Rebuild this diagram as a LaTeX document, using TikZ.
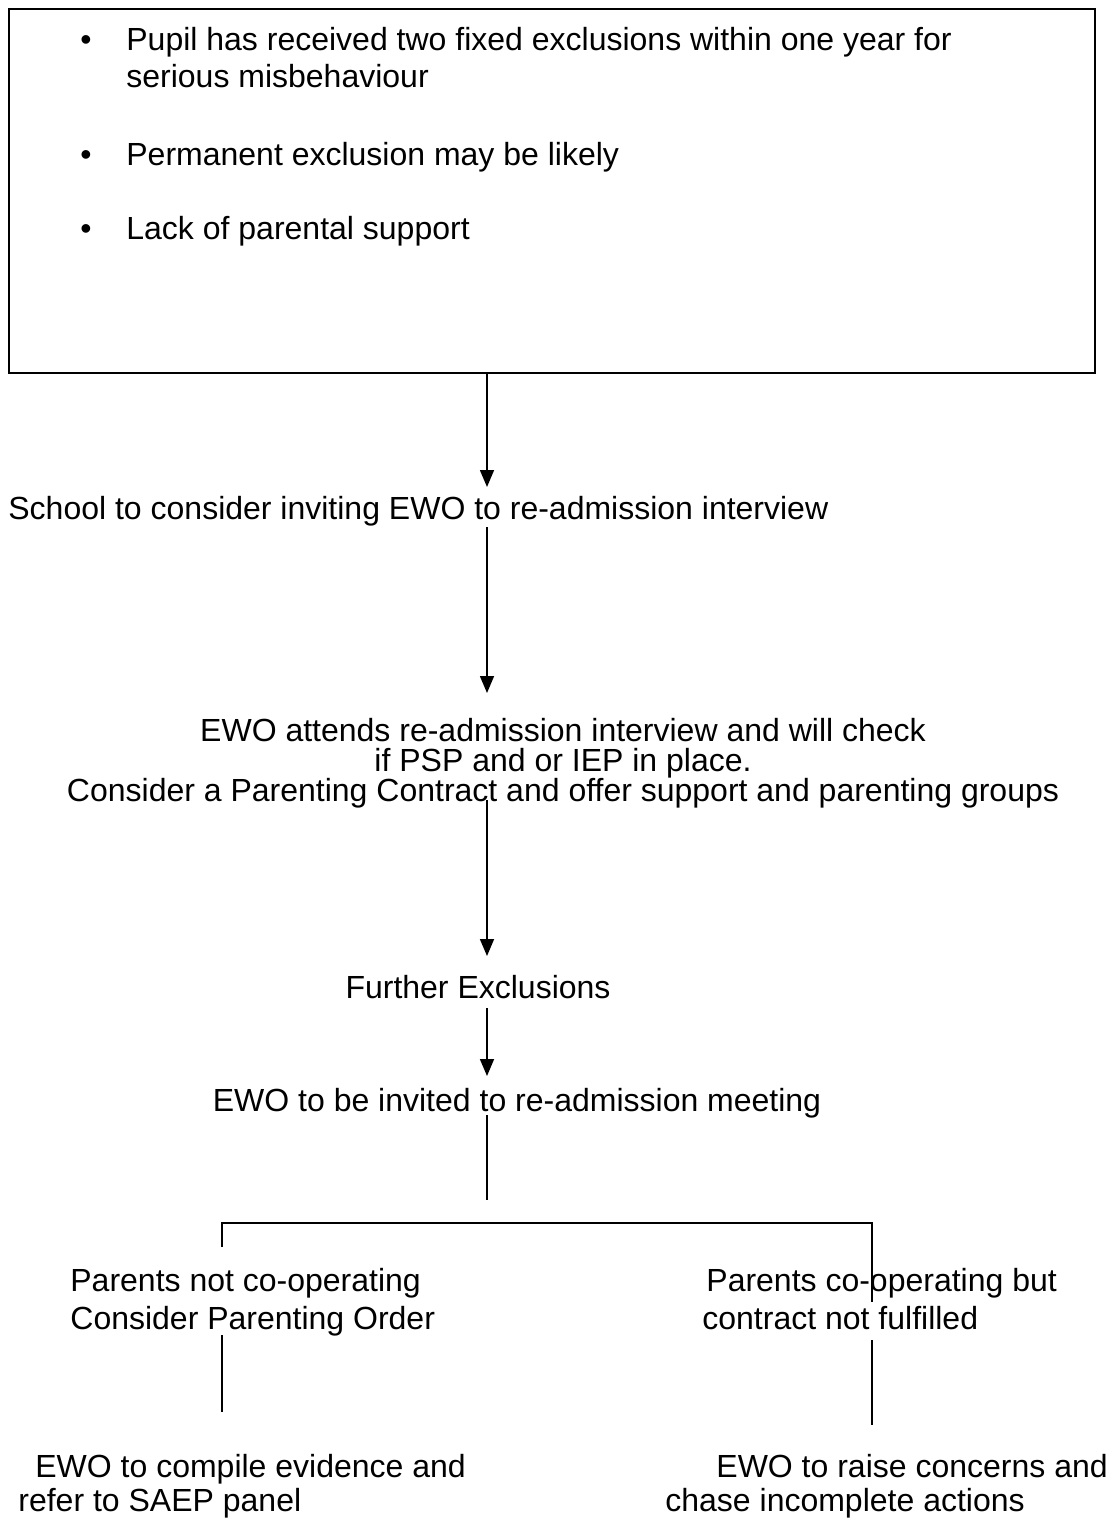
\documentclass[tikz,border=0pt]{standalone}
\usepackage{fontspec}
\setmainfont{Liberation Sans}
\usetikzlibrary{arrows.meta}
\begin{document}
\begin{tikzpicture}[x=0.5pt,y=-0.5pt,
  txt/.style={inner sep=0pt,font=\fontsize{16}{19}\selectfont},
  lft/.style={txt,anchor=base west},
  ctr/.style={txt,anchor=base},
  conn/.style={line width=0.8pt,draw=black},
  arr/.style={conn,-{Triangle[length=8.5pt,width=7pt]}},
  boxframe/.style={draw=black,line width=0.9pt,inner sep=0pt}]
\useasboundingbox (0,0) rectangle (1112,1519);
% top box
\node[boxframe,minimum width=543pt,minimum height=182pt,anchor=north west] (box) at (8,8) {};
\node[lft] (b1) at (80,51) {•};
\node[lft] (t1a) at (126,51) {Pupil has received two fixed exclusions within one year for};
\node[lft] (t1b) at (126,88) {serious misbehaviour};
\node[lft] (b2) at (80,166) {•};
\node[lft] (t2) at (126,166) {Permanent exclusion may be likely};
\node[lft] (b3) at (80,240) {•};
\node[lft] (t3) at (126,240) {Lack of parental support};
% steps
\node[lft] (school) at (8,519) {School to consider inviting EWO to re-admission interview};
\node[ctr] (ewoA) at (563,741) {EWO attends re-admission interview and will check};
\node[ctr] (ewoB) at (563,771) {if PSP and or IEP in place.};
\node[ctr] (ewoC) at (563,801) {Consider a Parenting Contract and offer support and parenting groups};
\node[ctr] (further) at (478,998) {Further Exclusions};
\node[ctr] (invite) at (517,1111) {EWO to be invited to re-admission meeting};
\node[lft] (notA) at (70,1291) {Parents not co-operating};
\node[lft] (notB) at (70,1329) {Consider Parenting Order};
\node[lft] (coA) at (706,1291) {Parents co-operating but};
\node[lft] (coB) at (702,1329) {contract not fulfilled};
\node[lft] (compA) at (35,1477) {EWO to compile evidence and};
\node[lft] (compB) at (18,1511) {refer to SAEP panel};
\node[lft] (raiseA) at (716,1477) {EWO to raise concerns and};
\node[lft] (raiseB) at (665,1511) {chase incomplete actions};
% connector coordinates
\coordinate (a1s) at (487,372);
\coordinate (a1e) at (487,487);
\coordinate (a2s) at (487,527);
\coordinate (a2e) at (487,693);
\coordinate (a3s) at (487,800);
\coordinate (a3e) at (487,956);
\coordinate (a4s) at (487,1008);
\coordinate (a4e) at (487,1076);
\coordinate (l1s) at (487,1115);
\coordinate (l1e) at (487,1200);
\coordinate (hl) at (222,1223);
\coordinate (hr) at (872,1223);
\coordinate (lv1) at (222,1247);
\coordinate (rv1) at (872,1302);
\coordinate (lv2s) at (222,1335);
\coordinate (lv2e) at (222,1412);
\coordinate (rv2s) at (872,1340);
\coordinate (rv2e) at (872,1425);
\draw[arr] (a1s) -- (a1e);
\draw[arr] (a2s) -- (a2e);
\draw[arr] (a3s) -- (a3e);
\draw[arr] (a4s) -- (a4e);
\draw[conn] (l1s) -- (l1e);
\draw[conn] (lv1) -- (hl) -- (hr) -- (rv1);
\draw[conn] (lv2s) -- (lv2e);
\draw[conn] (rv2s) -- (rv2e);
\end{tikzpicture}
\end{document}
